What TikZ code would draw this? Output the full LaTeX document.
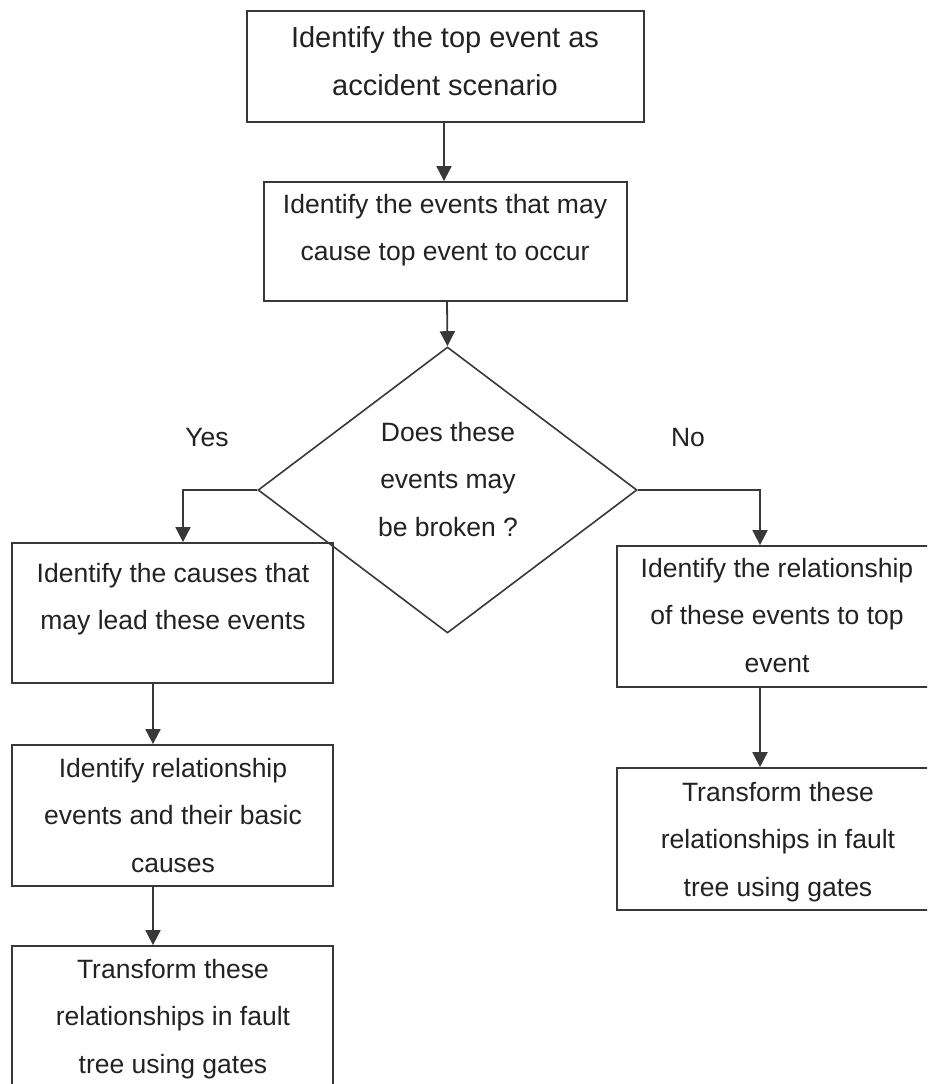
\documentclass[tikz,border=0pt]{standalone}
\usepackage{fontspec}
\setmainfont{Liberation Sans}
\usetikzlibrary{shapes.geometric,arrows.meta}
\definecolor{edge}{HTML}{383838}
\definecolor{ink}{HTML}{222222}
\begin{document}
\begin{tikzpicture}[x=1pt,y=-1pt,
  stepbox/.style={draw=edge,line width=1.8pt,rectangle,inner sep=0pt},
  decision/.style={draw=edge,line width=1.6pt,diamond,inner sep=0pt,
    minimum width=379pt,minimum height=286pt},
  label/.style={text=ink,align=center,anchor=base,inner sep=0pt,
    font=\fontsize{26.5}{47.5}\selectfont},
  biglabel/.style={label,font=\fontsize{29}{48}\selectfont},
  flow/.style={draw=edge,line width=1.8pt,
    -{Triangle[length=15pt,width=15pt]}}]
\useasboundingbox (0,0) rectangle (927,1084);
\clip (0,0) rectangle (927,1084);

% boxes
\node[stepbox,minimum width=397pt,minimum height=111pt] (top) at (445.5,66.5) {};
\node[stepbox,minimum width=363pt,minimum height=119pt] (events) at (445.5,241.5) {};
\node[decision] (dec) at (447.5,490) {};
\node[stepbox,minimum width=321pt,minimum height=140pt] (causes) at (172.5,613) {};
\node[stepbox,minimum width=321pt,minimum height=141pt] (relev) at (172.5,815.5) {};
\node[stepbox,minimum width=321pt,minimum height=170pt] (transl) at (172.5,1031) {};
\node[stepbox,minimum width=326pt,minimum height=141pt] (reltop) at (780,616.5) {};
\node[stepbox,minimum width=326pt,minimum height=142pt] (transr) at (780,839) {};

% texts (positioned by the baseline of their last line)
\node[biglabel] (ttop) at (445,95) {Identify the top event as\\accident scenario};
\node[label] (tevents) at (445,260.5) {Identify the events that may\\cause top event to occur};
\node[label] (tdec) at (448,536) {Does these\\events may\\be broken ?};
\node[label] (tcauses) at (173,629.5) {Identify the causes that\\may lead these events};
\node[label] (trelev) at (173,872) {Identify relationship\\events and their basic\\causes};
\node[label] (ttransl) at (173,1073) {Transform these\\relationships in fault\\tree using gates};
\node[label] (treltop) at (777,672) {Identify the relationship\\of these events to top\\event};
\node[label] (ttransr) at (778,896) {Transform these\\relationships in fault\\tree using gates};
\node[label] (yes) at (207,446) {Yes};
\node[label] (no) at (688,446) {No};

% connectors
\draw[flow] ([xshift=-1.5pt]top.south) -- ([xshift=-1.5pt]events.north);
\draw[flow] ([xshift=1.5pt]events.south) -- (dec.north);
\draw[flow] (dec.west) -| ([xshift=10.5pt]causes.north);
\draw[flow] (dec.east) -| ([xshift=-20pt]reltop.north);
\draw[flow] ([xshift=-19.5pt]causes.south) -- ([xshift=-19.5pt]relev.north);
\draw[flow] ([xshift=-19.5pt]relev.south) -- ([xshift=-19.5pt]transl.north);
\draw[flow] ([xshift=-20pt]reltop.south) -- ([xshift=-20pt]transr.north);
\end{tikzpicture}
\end{document}
